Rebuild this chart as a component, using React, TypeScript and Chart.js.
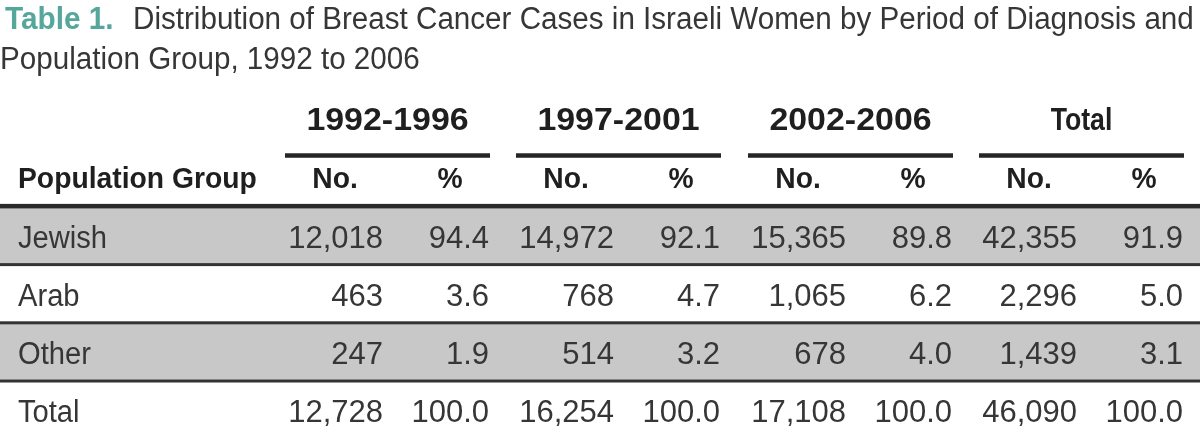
import React, { useEffect, useRef } from "react";
import { Chart, registerables } from "chart.js";

Chart.register(...registerables);

// ---------- data ----------
const titleLabel = "Table 1.";
const titleLine1 = "Distribution of Breast Cancer Cases in Israeli Women by Period of Diagnosis and";
const titleLine2 = "Population Group, 1992 to 2006";
const rowHeader = "Population Group";
const periods = ["1992-1996", "1997-2001", "2002-2006", "Total"];
const subHeaders = ["No.", "%"];
const groups = ["Jewish", "Arab", "Other", "Total"];
const counts1992 = [12018, 463, 247, 12728];
const pct1992 = [94.4, 3.6, 1.9, 100.0];
const counts1997 = [14972, 768, 514, 16254];
const pct1997 = [92.1, 4.7, 3.2, 100.0];
const counts2002 = [15365, 1065, 678, 17108];
const pct2002 = [89.8, 6.2, 4.0, 100.0];
const countsTotal = [42355, 2296, 1439, 46090];
const pctTotal = [91.9, 5.0, 3.1, 100.0];
const shadedRows = [0, 2];

const periodCounts = [counts1992, counts1997, counts2002, countsTotal];
const periodPcts = [pct1992, pct1997, pct2002, pctTotal];

// ---------- layout ----------
const W = 1200;
const H = 426;
const ROW_PITCH = 58.2;
const ROW0_Y = 235.5;
const Y_MIN = -ROW0_Y / ROW_PITCH;
const Y_MAX = (H - ROW0_Y) / ROW_PITCH;
const GROUP_LEFT = [285, 516, 748, 979];
const GROUP_W = 205;
const NO_RIGHT = 98;
const PCT_RIGHT = 204;
const NO_CENTER = 50;
const PCT_CENTER = 165;
const LABEL_X = 18;
const HEADER_ROW = -1;
const GROUP_ROW = -2;
const UNDERLINE_ROW = -1.37;

const FONT = '"Liberation Sans", Arial, sans-serif';
const TEXT = "#363636";
const HEAD = "#1f1f1f";
const TEAL = "#55a79c";
const BAND = "#c8c8c8";
const RULE = "#333333";

type Style = { size: number; weight: string; sx: number; color: string };
const sTitleBold: Style = { size: 31, weight: "bold", sx: 0.96, color: TEAL };
const sTitle: Style = { size: 31, weight: "normal", sx: 0.955, color: TEXT };
const sGroupDigits: Style = { size: 32, weight: "bold", sx: 1.06, color: HEAD };
const sGroupWord: Style = { size: 31, weight: "bold", sx: 0.86, color: HEAD };
const sHead: Style = { size: 29, weight: "bold", sx: 0.975, color: HEAD };
const sLabel: Style = { size: 31, weight: "normal", sx: 0.94, color: TEXT };
const sNum: Style = { size: 31, weight: "normal", sx: 1.0, color: TEXT };

function drawText(
  ctx: CanvasRenderingContext2D,
  s: string,
  x: number,
  y: number,
  align: "left" | "right" | "center",
  st: Style
) {
  ctx.save();
  ctx.font = `${st.weight} ${st.size}px ${FONT}`;
  ctx.fillStyle = st.color;
  ctx.textBaseline = "alphabetic";
  ctx.textAlign = "left";
  const w = ctx.measureText(s).width * st.sx;
  const left = align === "left" ? x : align === "right" ? x - w : x - w / 2;
  ctx.translate(left, y);
  ctx.scale(st.sx, 1);
  ctx.fillText(s, 0, 0);
  ctx.restore();
}

const fmtCount = (v: number) => v.toLocaleString("en-US");
const fmtPct = (v: number) => v.toFixed(1);

const tablePlugin = {
  id: "tablePlugin",
  afterDatasetsDraw(chart: any) {
    const ctx: CanvasRenderingContext2D = chart.ctx;
    const xs = chart.scales.x;
    const ys = chart.scales.y;
    const px = (v: number) => xs.getPixelForValue(v);
    const py = (v: number) => ys.getPixelForValue(v);

    // title
    drawText(ctx, titleLabel, 5, 29, "left", sTitleBold);
    drawText(ctx, titleLine1, 133, 29, "left", sTitle);
    drawText(ctx, titleLine2, 0, 69, "left", sTitle);

    // group headers + underlines
    periods.forEach((p, g) => {
      const l = GROUP_LEFT[g];
      const st = /^\d/.test(p) ? sGroupDigits : sGroupWord;
      drawText(ctx, p, px(l + GROUP_W / 2), py(GROUP_ROW) + 11, "center", st);
      ctx.save();
      ctx.fillStyle = "#262626";
      const uy = py(UNDERLINE_ROW);
      ctx.fillRect(px(l), uy - 2.5, px(l + GROUP_W) - px(l), 4.5);
      ctx.restore();
      drawText(ctx, subHeaders[0], px(l + NO_CENTER), py(HEADER_ROW) + 11, "center", sHead);
      drawText(ctx, subHeaders[1], px(l + PCT_CENTER), py(HEADER_ROW) + 11, "center", sHead);
    });
    drawText(ctx, rowHeader, px(LABEL_X), py(HEADER_ROW) + 11, "left", sHead);

    // rules
    ctx.save();
    ctx.fillStyle = "#2a2a2a";
    const t = py(-0.5);
    ctx.fillRect(px(0), t - 2.5, px(W) - px(0), 4.5);
    ctx.fillStyle = RULE;
    for (let i = 0; i < groups.length - 1; i++) {
      const y = py(i + 0.5);
      ctx.fillRect(px(0), y - 1.5, px(W) - px(0), 3);
    }
    ctx.restore();

    // body cells
    groups.forEach((gname, r) => {
      const base = py(r) + 12;
      drawText(ctx, gname, px(LABEL_X), base, "left", sLabel);
      periods.forEach((_, g) => {
        const l = GROUP_LEFT[g];
        drawText(ctx, fmtCount(periodCounts[g][r]), px(l + NO_RIGHT), base, "right", sNum);
        drawText(ctx, fmtPct(periodPcts[g][r]), px(l + PCT_RIGHT), base, "right", sNum);
      });
    });
  },
};

export default function App() {
  const ref = useRef<HTMLCanvasElement | null>(null);
  useEffect(() => {
    document.body.style.margin = "0";
    document.body.style.background = "#ffffff";
    const canvas = ref.current;
    if (!canvas) return;
    const chart = new Chart(canvas, {
      type: "bar",
      data: {
        datasets: [
          {
            label: "bands",
            data: shadedRows.map((r) => ({ y: r, x: [0, W] })) as any,
            backgroundColor: BAND,
            borderWidth: 0,
            barThickness: 55,
          },
        ],
      },
      options: {
        indexAxis: "y",
        animation: false,
        responsive: false,
        devicePixelRatio: 1,
        layout: { padding: 0 },
        events: [],
        plugins: { legend: { display: false }, tooltip: { enabled: false } },
        scales: {
          x: { type: "linear", bounds: "data", offset: false, min: 0, max: W, display: false, grace: 0 },
          y: {
            type: "linear",
            bounds: "data",
            offset: false,
            reverse: true,
            min: Y_MIN,
            max: Y_MAX,
            display: false,
            grace: 0,
          },
        },
      },
      plugins: [tablePlugin],
    });
    return () => chart.destroy();
  }, []);
  return (
    <div style={{ width: W, height: H }}>
      <canvas ref={ref} width={W} height={H} style={{ display: "block", width: W, height: H }} />
    </div>
  );
}
